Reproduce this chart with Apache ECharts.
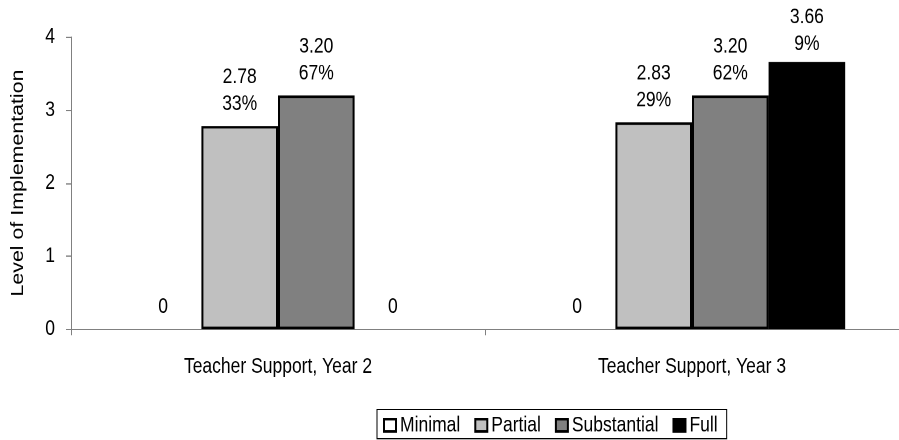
<!DOCTYPE html>
<html>
<head>
<meta charset="utf-8">
<script src="https://cdn.jsdelivr.net/npm/echarts@6/dist/echarts.min.js"></script>
<style>
html{margin:0;padding:0;background:#fff;overflow:hidden}
body{margin:0;padding:0;background:#fff;width:899px;height:440px}
#c{width:899px;height:360px;transform:scaleY(1.2222);transform-origin:0 0}
</style>
</head>
<body>
<div id="c"></div>
<script>
const categories = ['Teacher Support, Year 2', 'Teacher Support, Year 3'];
const seriesNames = ['Minimal', 'Partial', 'Substantial', 'Full'];
const minimalValues = [0, 0];
const partialValues = [2.78, 2.83];
const substantialValues = [3.20, 3.20];
const fullValues = [0, 3.66];
const minimalPct = [null, null];
const partialPct = ['33%', '29%'];
const substantialPct = ['67%', '62%'];
const fullPct = [null, '9%'];
const yTicks = [0, 1, 2, 3, 4];

const colors = ['#ffffff', '#c0c0c0', '#808080', '#000000'];
const FONT = 'Liberation Sans, Arial, sans-serif';
const FS = 17.5;
const LABEL_MIN_TOP = 3;

function makeSeries(name, values, pcts, color) {
  return {
    name: name,
    type: 'bar',
    barGap: '0%',
    barCategoryGap: '26%',
    itemStyle: { color: color, borderColor: '#000', borderWidth: 2 },
    data: values.map(function (v) {
      return v === 0 ? { value: v, itemStyle: { borderWidth: 0 } } : { value: v };
    }),
    label: {
      show: true,
      position: 'top',
      distance: 7,
      color: '#000',
      fontFamily: FONT,
      fontSize: FS,
      lineHeight: 22,
      formatter: function (p) {
        const v = p.value;
        const s = v === 0 ? '0' : v.toFixed(2);
        const pct = pcts[p.dataIndex];
        return pct ? s + '\n' + pct : s;
      }
    },
    labelLayout: function (params) {
      if (params.labelRect.y < LABEL_MIN_TOP) {
        return { dy: LABEL_MIN_TOP - params.labelRect.y };
      }
      return {};
    }
  };
}

const chart = echarts.init(document.getElementById('c'), null, { renderer: 'canvas', devicePixelRatio: 2 });
chart.setOption({
  animation: false,
  backgroundColor: '#fff',
  grid: { left: 71, top: 30.3, width: 838, bottom: 90.8, containLabel: false },
  legend: {
    bottom: 1,
    left: 377,
    data: seriesNames,
    icon: 'rect',
    itemWidth: 12,
    itemHeight: 10,
    itemGap: 14,
    padding: [4, 9, 2, 6],
    borderColor: '#000',
    borderWidth: 1,
    textStyle: { fontFamily: FONT, fontSize: FS, lineHeight: 14, color: '#000', padding: [0, 0, 0, -1] },
    itemStyle: { borderColor: '#000', borderWidth: 2 }
  },
  xAxis: {
    type: 'category',
    data: categories,
    axisLine: { lineStyle: { color: '#808080', width: 1 } },
    axisTick: { show: true, length: 5, lineStyle: { color: '#808080' } },
    axisLabel: { color: '#000', fontFamily: FONT, fontSize: FS, margin: 22 }
  },
  yAxis: {
    type: 'value',
    min: yTicks[0],
    max: yTicks[yTicks.length - 1],
    interval: 1,
    name: 'Level of Implementation',
    nameLocation: 'middle',
    nameGap: 44,
    nameTextStyle: { color: '#000', fontFamily: FONT, fontSize: FS },
    axisLine: { show: true, lineStyle: { color: '#808080', width: 1 } },
    axisTick: { show: true, length: 5, lineStyle: { color: '#808080' } },
    splitLine: { show: false },
    axisLabel: { color: '#000', fontFamily: FONT, fontSize: FS, margin: 16 }
  },
  series: [
    makeSeries(seriesNames[0], minimalValues, minimalPct, colors[0]),
    makeSeries(seriesNames[1], partialValues, partialPct, colors[1]),
    makeSeries(seriesNames[2], substantialValues, substantialPct, colors[2]),
    makeSeries(seriesNames[3], fullValues, fullPct, colors[3])
  ]
});
</script>
</body>
</html>
